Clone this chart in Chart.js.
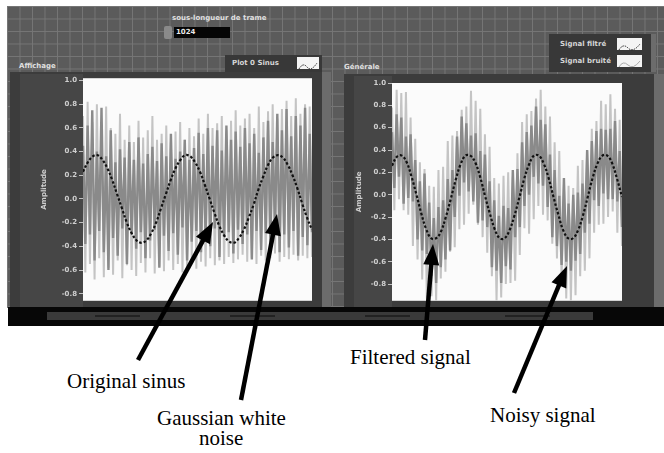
<!DOCTYPE html>
<html><head><meta charset="utf-8">
<script src="https://cdn.jsdelivr.net/npm/chart.js@4.4.1/dist/chart.umd.min.js"></script>
<style>
html,body{margin:0;padding:0;background:#fff;width:664px;height:453px;overflow:hidden;}
body{position:relative;font-family:"DejaVu Sans",sans-serif;}
.abs{position:absolute;}
#panel{left:7px;top:6px;width:657px;height:302px;background-color:#5b5b5b;
 background-image:linear-gradient(#767676 1px,transparent 1px),linear-gradient(90deg,#767676 1px,transparent 1px);
 background-size:12.5px 12.5px;}
.frame{background:#3c3c3c;}
.lab{background:#464646;}
.strip{background:#6c6c6c;}
.ttl{color:#e0e0e0;font-size:7px;font-weight:bold;}
.leg{background:#383838;color:#d6d6d6;font-size:7px;font-weight:bold;}
.ico{background:#f4f4f4;}
.ann{font-family:"Liberation Serif","Times New Roman",serif;font-size:21px;color:#000;line-height:20px;white-space:nowrap;}
#bar{left:8px;top:307px;width:656px;height:19px;background:#070707;}
</style>
</head><body>
<script>
// ---------------- data ----------------
const Y_TICKS = [1.0,0.8,0.6,0.4,0.2,0.0,-0.2,-0.4,-0.6,-0.8];

const LEFT_SINUS = [0.23,0.31,0.36,0.37,0.33,0.26,0.16,0.04,-0.08,-0.20,-0.29,-0.35,-0.37,-0.35,-0.29,-0.20,-0.08,0.04,0.16,0.26,0.33,0.37,0.36,0.31,0.23,0.12,0.00,-0.12,-0.23,-0.31,-0.36,-0.37,-0.33,-0.26,-0.16,-0.05,0.08,0.19,0.29,0.35,0.37,0.35,0.29,0.20,0.09,-0.04,-0.16,-0.26];

const LEFT_NOISE_DARK = [0.45,-0.38,0.62,-0.30,0.75,-0.52,0.40,-0.27,0.77,-0.45,
 0.36,-0.60,0.58,-0.33,0.31,-0.48,0.42,-0.25,0.35,-0.55,
 0.48,-0.30,0.33,-0.42,0.52,-0.28,0.30,-0.50,0.38,-0.35,
 0.44,-0.26,0.32,-0.58,0.47,-0.31,0.36,-0.44,0.55,-0.29,
 0.34,-0.47,0.40,-0.24,0.50,-0.52,0.33,-0.36,0.43,-0.27,
 0.56,-0.45,0.38,-0.30,0.60,-0.40,0.45,-0.25,0.58,-0.49,
 0.41,-0.32,0.62,-0.28,0.50,-0.46,0.57,-0.26,0.44,-0.38,
 0.60,-0.30,0.47,-0.51,0.55,-0.27,0.39,-0.43,0.52,-0.29,
 0.66,-0.37,0.48,-0.25,0.72,-0.45,0.58,-0.30,0.76,-0.41,
 0.53,-0.27,0.70,-0.48,0.62,-0.32,0.77,-0.39,0.55,-0.28];

const LEFT_NOISE_LIGHT = [0.70,-0.62,0.82,-0.55,0.65,-0.68,0.80,-0.50,0.58,-0.66,
 0.78,-0.58,0.60,-0.64,0.55,-0.52,0.72,-0.67,0.50,-0.56,
 0.62,-0.60,0.48,-0.65,0.66,-0.54,0.52,-0.62,0.58,-0.50,
 0.70,-0.63,0.50,-0.57,0.55,-0.61,0.62,-0.52,0.48,-0.60,
 0.57,-0.55,0.65,-0.62,0.50,-0.58,0.60,-0.50,0.53,-0.59,
 0.68,-0.53,0.55,-0.57,0.72,-0.50,0.60,-0.56,0.64,-0.52,
 0.70,-0.55,0.58,-0.49,0.66,-0.54,0.75,-0.51,0.62,-0.47,
 0.68,-0.53,0.72,-0.50,0.60,-0.55,0.78,-0.48,0.65,-0.52,
 0.74,-0.50,0.80,-0.46,0.68,-0.53,0.76,-0.49,0.83,-0.51,
 0.70,-0.47,0.85,-0.52,0.72,-0.48,0.80,-0.50,0.78,-0.49];

const RIGHT_FILTERED = [0.26,0.34,0.35,0.29,0.16,0.00,-0.17,-0.31,-0.39,-0.39,-0.33,-0.20,-0.04,0.13,0.27,0.35,0.35,0.29,0.16,-0.01,-0.17,-0.31,-0.39,-0.39,-0.32,-0.19,-0.03,0.14,0.27,0.35,0.35,0.28,0.15,-0.02,-0.18,-0.32,-0.39,-0.39,-0.32,-0.19,-0.02,0.15,0.28,0.35,0.35,0.28,0.14,-0.02];

const RIGHT_NOISY_DARK = [0.56,0.06,0.72,0.16,0.69,-0.08,0.52,-0.03,0.54,-0.06,
 0.31,-0.40,0.12,-0.50,0.19,-0.53,-0.07,-0.73,-0.21,-0.79,
 -0.11,-0.65,-0.05,-0.58,0.14,-0.50,0.22,-0.20,0.52,-0.01,
 0.70,0.11,0.64,0.03,0.53,-0.06,0.55,-0.25,0.39,-0.23,
 0.36,-0.29,0.12,-0.65,-0.05,-0.68,-0.19,-0.79,-0.10,-0.64,
 -0.12,-0.67,0.22,-0.38,0.23,-0.29,0.47,-0.10,0.56,0.00,
 0.62,0.16,0.79,0.10,0.67,0.08,0.63,-0.11,0.36,-0.38,
 0.22,-0.46,-0.01,-0.63,0.15,-0.60,-0.08,-0.68,0.00,-0.59,
 0.02,-0.53,0.10,-0.34,0.40,-0.26,0.48,-0.05,0.57,-0.10,
 0.59,0.01,0.58,-0.04,0.59,-0.04,0.66,-0.06,0.39,-0.29];

const RIGHT_NOISY_LIGHT = [0.78,-0.14,0.94,-0.04,0.91,-0.14,0.92,-0.18,0.69,-0.46,
 0.50,-0.58,0.29,-0.76,0.23,-0.93,0.08,-0.91,0.07,-0.95,
 0.22,-0.75,0.25,-0.69,0.48,-0.51,0.53,-0.47,0.57,-0.31,
 0.76,-0.27,0.79,-0.17,0.93,-0.09,0.84,-0.27,0.77,-0.38,
 0.54,-0.52,0.43,-0.73,0.15,-0.95,0.10,-0.92,0.17,-0.80,
 0.20,-0.79,0.16,-0.77,0.37,-0.54,0.65,-0.30,0.72,-0.35,
 0.75,-0.22,0.86,-0.10,0.94,-0.18,0.79,-0.23,0.70,-0.44,
 0.47,-0.57,0.39,-0.76,0.09,-0.93,0.08,-0.95,0.06,-0.90,
 0.26,-0.73,0.31,-0.68,0.39,-0.57,0.59,-0.34,0.66,-0.27,
 0.84,-0.26,0.81,-0.20,0.90,-0.15,0.77,-0.34,0.67,-0.46];
</script>

<div id="panel" class="abs"></div>

<!-- top numeric control -->
<div class="abs ttl" style="left:172px;top:14px;font-size:7px;">sous-longueur de trame</div>
<div class="abs" style="left:164px;top:26px;width:8px;height:13px;background:#8a8a8a;border-radius:2px;"></div>
<div class="abs" style="left:174px;top:27px;width:56px;height:11px;background:#050505;color:#e8e8e8;font-size:7px;font-weight:bold;line-height:11px;padding-left:2px;box-sizing:border-box;">1024</div>

<!-- left chart chrome -->
<div class="abs ttl" style="left:19px;top:62px;">Affichage</div>
<div class="abs leg" style="left:225px;top:55px;width:97px;height:17px;"></div>
<div class="abs leg" style="left:232px;top:59px;">Plot 0 Sinus</div>
<div class="abs ico" style="left:297px;top:57px;width:22px;height:12px;"><svg width="22" height="12"><path d="M2 9 Q6 2 10 7 T20 3" fill="none" stroke="#222" stroke-width="1" stroke-dasharray="1.5 1"/></svg></div>
<div class="abs frame" style="left:10px;top:72px;width:312px;height:236px;"></div>
<div class="abs lab" style="left:20px;top:74px;width:63px;height:234px;"></div>
<div class="abs strip" style="left:322px;top:72px;width:9px;height:236px;"></div>

<!-- right chart chrome -->
<div class="abs ttl" style="left:344px;top:63px;">Générale</div>
<div class="abs leg" style="left:549px;top:34px;width:106px;height:38px;"></div>
<div class="abs leg" style="left:560px;top:40px;">Signal filtré</div>
<div class="abs leg" style="left:560px;top:57px;">Signal bruité</div>
<div class="abs ico" style="left:617px;top:38px;width:25px;height:12px;"><svg width="25" height="12"><path d="M2 9 Q6 2 11 7 T23 3" fill="none" stroke="#222" stroke-width="1" stroke-dasharray="1.5 1"/></svg></div>
<div class="abs ico" style="left:617px;top:55px;width:25px;height:12px;"><svg width="25" height="12"><path d="M2 9 Q6 2 11 7 T23 3" fill="none" stroke="#aaa" stroke-width="1"/></svg></div>
<div class="abs strip" style="left:651px;top:34px;width:5px;height:38px;"></div>
<div class="abs frame" style="left:344px;top:74px;width:310px;height:234px;"></div>
<div class="abs lab" style="left:354px;top:76px;width:38px;height:232px;"></div>
<div class="abs strip" style="left:654px;top:74px;width:10px;height:234px;"></div>

<canvas id="c1" class="abs" width="272" height="235" style="left:40px;top:72px;"></canvas>
<canvas id="c2" class="abs" width="267" height="232" style="left:355px;top:75px;"></canvas>

<!-- bottom scrollbar -->
<div id="bar" class="abs"></div>
<div class="abs" style="left:47px;top:312px;width:546px;height:8px;background:#3a3a3a;"></div>
<div class="abs" style="left:95px;top:315px;width:45px;height:2px;background:#222;"></div>
<div class="abs" style="left:230px;top:315px;width:45px;height:2px;background:#222;"></div>
<div class="abs" style="left:365px;top:315px;width:45px;height:2px;background:#222;"></div>
<div class="abs" style="left:505px;top:315px;width:45px;height:2px;background:#222;"></div>

<!-- annotations -->
<div class="abs ann" style="left:67px;top:371px;">Original sinus</div>
<div class="abs ann" style="left:157px;top:408px;">Gaussian white</div>
<div class="abs ann" style="left:199px;top:428px;">noise</div>
<div class="abs ann" style="left:350px;top:347px;">Filtered signal</div>
<div class="abs ann" style="left:490px;top:405px;">Noisy signal</div>
<canvas id="arrows" class="abs" width="664" height="453" style="left:0;top:0;"></canvas>

<script>
const toXY = arr => arr.map((v,i)=>({x:i/(arr.length-1), y:v}));

const whiteArea = {
  id:'whiteArea',
  beforeDatasetsDraw(chart){
    const a = chart.chartArea, c = chart.ctx;
    c.save(); c.fillStyle = '#fbfbfb'; c.fillRect(a.left, a.top, a.right-a.left, a.bottom-a.top); c.restore();
  }
};

function makeChart(id, datasets, yMin, yMax, padTop, axisW){
  return new Chart(document.getElementById(id), {
    type:'line',
    data:{datasets},
    options:{
      responsive:false, animation:false,
      layout:{padding:{top:padTop,right:0,bottom:0,left:0}},
      plugins:{legend:{display:false}, tooltip:{enabled:false}},
      elements:{point:{radius:0}},
      scales:{
        x:{type:'linear', min:0, max:1, display:false},
        y:{
          min:yMin, max:yMax,
          afterBuildTicks:s=>{ s.ticks = Y_TICKS.map(v=>({value:v})); },
          afterFit:s=>{ s.width = axisW; },
          ticks:{color:'#cfcfcf', font:{size:7, weight:'bold', family:'DejaVu Sans'}, padding:2,
                 callback:v=>Number(v).toFixed(1)},
          grid:{drawOnChartArea:false, color:'#c0c0c0', tickLength:4},
          border:{display:false},
          title:{display:true, text:'Amplitude', color:'#cfcfcf', font:{size:7, weight:'bold', family:'DejaVu Sans'}, padding:{top:0,bottom:0}}
        }
      }
    },
    plugins:[whiteArea]
  });
}

// 'order': lower value is drawn on top
makeChart('c1', [
  {data:toXY(LEFT_SINUS), borderColor:'#111', borderWidth:2.2, borderDash:[2.5,2], tension:0.4, order:1},
  {data:toXY(LEFT_NOISE_DARK), borderColor:'#8a8a8a', borderWidth:2.4, tension:0, order:2},
  {data:toXY(LEFT_NOISE_LIGHT), borderColor:'#c4c4c4', borderWidth:2.0, tension:0, order:3}
], -0.86, 1.02, 6, 43);

makeChart('c2', [
  {data:toXY(RIGHT_FILTERED), borderColor:'#111', borderWidth:2.2, borderDash:[2.5,2], tension:0.4, order:1},
  {data:toXY(RIGHT_NOISY_DARK), borderColor:'#8a8a8a', borderWidth:2.4, tension:0, order:2},
  {data:toXY(RIGHT_NOISY_LIGHT), borderColor:'#c4c4c4', borderWidth:2.0, tension:0, order:3}
], -0.95, 1.0, 8, 37);

// annotation arrows: tail x, tail y, tip x, tip y (page pixels)
const ARROWS = [[138,360,213,222],[241,400,277,214],[425,340,433,244],[514,393,567,266]];
const actx = document.getElementById('arrows').getContext('2d');
ARROWS.forEach(([x1,y1,x2,y2])=>{
  const a = Math.atan2(y2-y1, x2-x1), L = 21, W = 8;
  const bx = x2 - L*Math.cos(a), by = y2 - L*Math.sin(a);
  actx.strokeStyle = '#000'; actx.fillStyle = '#000'; actx.lineWidth = 4.5;
  actx.beginPath(); actx.moveTo(x1,y1); actx.lineTo(bx+3*Math.cos(a), by+3*Math.sin(a)); actx.stroke();
  actx.beginPath(); actx.moveTo(x2,y2);
  actx.lineTo(bx + W*Math.sin(a), by - W*Math.cos(a));
  actx.lineTo(bx - W*Math.sin(a), by + W*Math.cos(a));
  actx.closePath(); actx.fill();
});
</script>
</body></html>
